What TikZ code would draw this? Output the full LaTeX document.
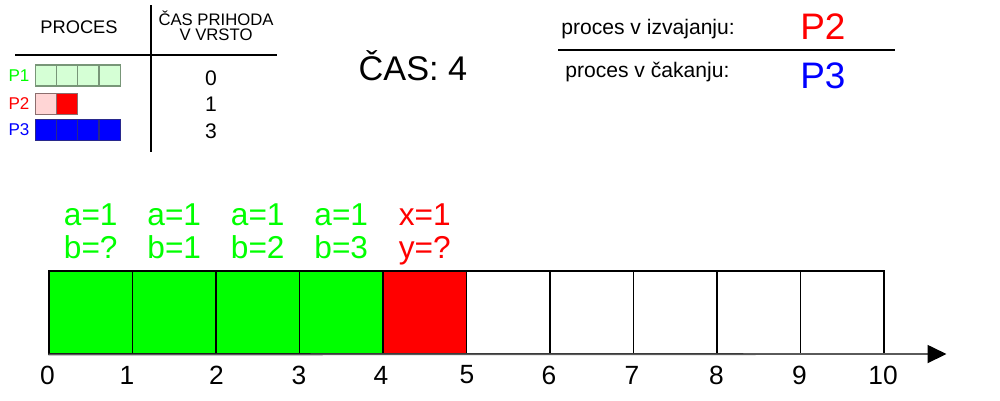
\documentclass[tikz,border=0pt]{standalone}
\usepackage{fontspec}
\setmainfont{Liberation Sans}
\usetikzlibrary{arrows.meta}
\definecolor{bgreen}{RGB}{0,255,0}
\definecolor{bred}{RGB}{255,0,0}
\definecolor{bblue}{RGB}{0,0,255}
\definecolor{lgreen}{RGB}{213,255,213}
\definecolor{lgreenline}{RGB}{120,150,120}
\definecolor{lpink}{RGB}{255,213,213}
\definecolor{pinkline}{RGB}{140,110,110}
\definecolor{blueline}{RGB}{40,40,140}
\definecolor{axisgray}{RGB}{90,90,90}
\newcommand{\fs}[1]{\fontsize{#1}{#1}\selectfont}
\tikzset{
  cell/.style={draw=black, line width=0.6pt, minimum width=1.67cm, minimum height=1.66cm, inner sep=0pt},
  mini/.style={line width=0.6pt, minimum width=0.425cm, minimum height=0.42cm, inner sep=0pt},
  tick/.style={font=\fs{15pt}, inner sep=0pt},
  varlbl/.style={font=\fs{18pt}, inner sep=0pt, anchor=base},
  rule/.style={line width=1.1pt},
  small/.style={font=\fs{9.7pt}, inner sep=0pt},
  tnum/.style={font=\fs{12pt}, inner sep=0pt},
}
\begin{document}
\begin{tikzpicture}[x=0.02cm,y=-0.02cm]
\useasboundingbox (0,0) rectangle (1000,400);
% main bar cells
\foreach \i/\c in {0/bgreen,1/bgreen,2/bgreen,3/bgreen,4/bred,5/white,6/white,7/white,8/white,9/white}{
  \node[cell, fill=\c] (c\i) at ({49+83.5*\i+41.75},312.5) {};
}
% axis
\coordinate (axend) at (946.5,354);
\draw[axisgray, line width=1pt, -{Triangle[length=0.38cm,width=0.36cm,black]}] (c0.south west) -- (axend);
% tick labels
\foreach \i/\x in {0/47.5,1/127,2/216.5,3/299,4/381,5/467,6/549,7/632,8/716.5,9/799.5,10/883}{
  \node[tick] (t\i) at (\x,375) {\i};
}
% labels above
\foreach \i/\ta/\tb/\c in {0/a=1/b=?/bgreen,1/a=1/b=1/bgreen,2/a=1/b=2/bgreen,3/a=1/b=3/bgreen,4/x=1/y=?/bred}{
  \node[varlbl, text=\c] (la\i) at ({49+83.5*\i+41.75},225) {\ta};
  \node[varlbl, text=\c] (lb\i) at ({49+83.5*\i+41.75},258) {\tb};
}
% time
\node[font=\fs{19.5pt}, inner sep=0pt] (cas) at (413,66) {ČAS: 4};
% legend table
\coordinate (vt) at (151,5); \coordinate (vb) at (151,152);
\coordinate (hl) at (15,55); \coordinate (hr) at (277,55);
\draw[rule] (vt) -- (vb);
\draw[rule] (hl) -- (hr);
\node[font=\fs{10.4pt}, inner sep=0pt] (hproc) at (79,27) {PROCES};
\node[font=\fs{9.5pt}, align=center, inner sep=0pt] (hcas) at (216,26) {ČAS PRIHODA\\[-1pt]V VRSTO};
% P1
\node[small, text=bgreen] (p1) at (19,76) {P1};
\foreach \j in {0,...,3}{
  \node[mini, draw=lgreenline, fill=lgreen] (a\j) at ({35.3+21.25*\j+10.6},75.5) {};
}
% P2
\node[small, text=bred] (p2) at (19,104) {P2};
\node[mini, draw=pinkline, fill=lpink] (b0) at ({35.3+10.6},103.7) {};
\node[mini, draw=pinkline, fill=bred] (b1) at ({35.3+21.25+10.6},103.7) {};
% P3
\node[small, text=bblue] (p3) at (19,130) {P3};
\foreach \j in {0,...,3}{
  \node[mini, draw=blueline, fill=bblue] (d\j) at ({35.3+21.25*\j+10.6},129.7) {};
}
\node[tnum] (n1) at (211,78) {0};
\node[tnum] (n2) at (211,104) {1};
\node[tnum] (n3) at (211,131) {3};
% top right
\coordinate (rl) at (558,50); \coordinate (rr) at (895,50);
\draw[rule] (rl) -- (rr);
\node[font=\fs{12pt}, anchor=west, inner sep=0pt] (izv) at (561,29) {proces v izvajanju:};
\node[font=\fs{12pt}, anchor=west, inner sep=0pt] (cak) at (565,72) {proces v čakanju:};
\node[font=\fs{21pt}, text=bred, anchor=west, inner sep=0pt] (run) at (800,27) {P2};
\node[font=\fs{21pt}, text=bblue, anchor=west, inner sep=0pt] (wait) at (800,76) {P3};
\end{tikzpicture}
\end{document}
